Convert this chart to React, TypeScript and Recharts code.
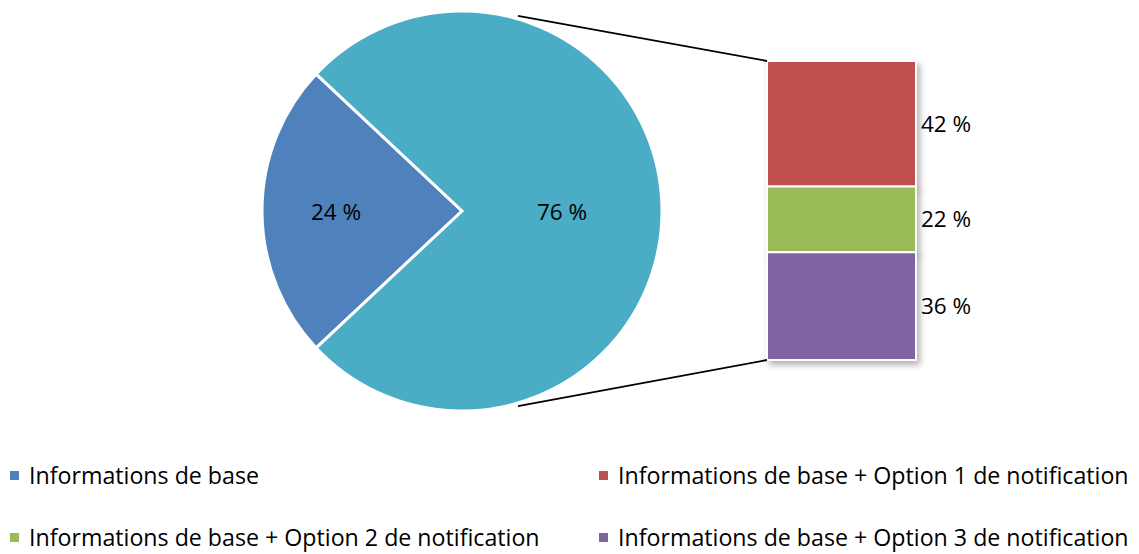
import React from 'react';
import { PieChart, Pie, Cell, BarChart, Bar, XAxis, YAxis, LabelList } from 'recharts';

// ---- data ----
const PIE_NAMES = ['Informations de base', 'Options de notification'];
const PIE_VALUES = [24, 76];
const PIE_COLORS = ['#4F81BD', '#4BACC6'];

const BAR_KEYS = ['opt1', 'opt2', 'opt3'];
const BAR_VALUES = [42, 22, 36];
const BAR_COLORS = ['#C0504D', '#9BBB59', '#8064A2'];

const LEGEND_LABELS = [
  'Informations de base',
  'Informations de base + Option 1 de notification',
  'Informations de base + Option 2 de notification',
  'Informations de base + Option 3 de notification',
];
const LEGEND_COLORS = ['#4F81BD', '#C0504D', '#9BBB59', '#8064A2'];

// ---- layout ----
const W = 1139;
const H = 554;
const PIE_CX = 462;
const PIE_CY = 211;
const PIE_R = 200;
const BOX = { left: 767, top: 61, right: 916, bottom: 360 };
const FONT = '"Open Sans", "Noto Sans", sans-serif';
const FS = 22.5;
const LEGEND_FS = 23.2;

const pieData = PIE_NAMES.map((name, i) => ({ name, value: PIE_VALUES[i] }));
const barRow: Record<string, any> = { name: 'options' };
BAR_KEYS.forEach((k, i) => (barRow[k] = BAR_VALUES[i]));
const barData = [barRow];

const RADIAN = Math.PI / 180;
const firstSweep = (PIE_VALUES[0] / PIE_VALUES.reduce((a, b) => a + b, 0)) * 360;
const START = 180 - firstSweep / 2;

const renderPieLabel = (p: any) => {
  const f = p.index === 0 ? 0.63 : 0.5;
  const r = p.outerRadius * f;
  const x = p.cx + r * Math.cos(-p.midAngle * RADIAN);
  const y = p.cy + r * Math.sin(-p.midAngle * RADIAN);
  return (
    <text x={x} y={y} textAnchor="middle" dominantBaseline="central" fill="#000" fontSize={FS} fontFamily={FONT}>
      {`${p.value} %`}
    </text>
  );
};

const ANCHOR = 74 * RADIAN;
const anchorR = PIE_R + 3;
const topStart = { x: PIE_CX + anchorR * Math.cos(ANCHOR), y: PIE_CY - anchorR * Math.sin(ANCHOR) };
const botStart = { x: PIE_CX + anchorR * Math.cos(ANCHOR), y: PIE_CY + anchorR * Math.sin(ANCHOR) };

export default function App() {
  return (
    <div style={{ position: 'absolute', left: 0, top: 0, width: W, height: H, background: '#fff', fontFamily: FONT }}>
      <style>{`
        .pie-wrap .recharts-pie-sectors { filter: drop-shadow(3px 4px 3px rgba(0,0,0,0.35)); }
        .bar-wrap .recharts-bar-rectangles { filter: drop-shadow(3px 4px 3px rgba(0,0,0,0.3)); }
      `}</style>
      <div className="bar-wrap" style={{ position: 'absolute', left: 0, top: 0 }}>
        <BarChart
          width={W}
          height={H}
          data={barData}
          margin={{ top: BOX.top, right: W - BOX.right, bottom: H - BOX.bottom, left: BOX.left }}
          barCategoryGap={0}
          reverseStackOrder
        >
          <XAxis dataKey="name" hide />
          <YAxis type="number" domain={[0, 100]} hide />
          {BAR_KEYS.map((k, i) => (
            <Bar key={k} dataKey={k} stackId="s" fill={BAR_COLORS[i]} stroke="#fff" strokeWidth={2} isAnimationActive={false}>
              <LabelList
                dataKey={k}
                position="right"
                offset={5}
                fill="#000"
                fontSize={FS}
                fontFamily={FONT}
                formatter={(v: any) => `${v} %`}
              />
            </Bar>
          ))}
        </BarChart>
      </div>
      <svg width={W} height={H} style={{ position: 'absolute', left: 0, top: 0 }}>
        <line x1={topStart.x} y1={topStart.y} x2={BOX.left} y2={BOX.top} stroke="#000" strokeWidth={1.8} />
        <line x1={botStart.x} y1={botStart.y} x2={BOX.left} y2={BOX.bottom} stroke="#000" strokeWidth={1.8} />
      </svg>
      <div className="pie-wrap" style={{ position: 'absolute', left: 0, top: 0 }}>
        <PieChart width={W} height={H} margin={{ top: 0, right: 0, bottom: 0, left: 0 }}>
          <Pie
            data={pieData}
            dataKey="value"
            nameKey="name"
            cx={PIE_CX}
            cy={PIE_CY}
            outerRadius={PIE_R}
            startAngle={START}
            endAngle={START + 360}
            stroke="#fff"
            strokeWidth={3}
            label={renderPieLabel}
            labelLine={false}
            isAnimationActive={false}
          >
            {pieData.map((d, i) => (
              <Cell key={d.name} fill={PIE_COLORS[i]} />
            ))}
          </Pie>
        </PieChart>
      </div>
      {LEGEND_LABELS.map((label, i) => {
        const col = i % 2;
        const row = Math.floor(i / 2);
        const x = col === 0 ? 10 : 599;
        const y = row === 0 ? 475 : 537;
        return (
          <div
            key={label}
            style={{ position: 'absolute', left: x, top: y - 16, height: 32, lineHeight: '32px', display: 'flex', alignItems: 'center', whiteSpace: 'nowrap', fontSize: LEGEND_FS, color: '#000' }}
          >
            <span style={{ display: 'inline-block', width: 9, height: 9, background: LEGEND_COLORS[i], marginRight: 10 }} />
            <span>{label}</span>
          </div>
        );
      })}
    </div>
  );
}
